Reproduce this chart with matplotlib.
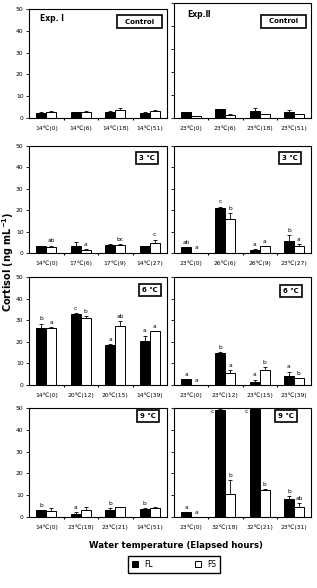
import numpy as np
import matplotlib.pyplot as plt

plt.rcParams['font.family'] = ['DejaVu Sans']

# ---- data ----
# Exp. I (left column)
labels_1_ctrl = ["14℃(0)", "14℃(6)", "14℃(18)", "14℃(51)"]
fl_1_ctrl = [2.5, 2.7, 2.8, 2.5]
fl_1_ctrl_err = [0.3, 0.2, 0.3, 0.3]
fs_1_ctrl = [2.8, 2.8, 3.5, 3.0]
fs_1_ctrl_err = [0.2, 0.2, 1.0, 0.5]

labels_1_3 = ["14℃(0)", "17℃(6)", "17℃(9)", "14℃(27)"]
fl_1_3 = [3.2, 3.3, 3.8, 3.2]
fl_1_3_err = [0.2, 1.9, 0.2, 0.2]
fs_1_3 = [2.9, 1.6, 3.7, 4.8]
fs_1_3_err = [0.6, 0.1, 0.3, 1.5]
fl_1_3_let = ["", "", "", ""]
fs_1_3_let = ["ab", "a", "bc", "c"]

labels_1_6 = ["14℃(0)", "20℃(12)", "20℃(15)", "14℃(39)"]
fl_1_6 = [26.4, 33.0, 18.4, 20.5]
fl_1_6_err = [2.0, 0.2, 0.6, 2.4]
fs_1_6 = [26.4, 31.0, 27.5, 24.9]
fs_1_6_err = [0.3, 1.0, 2.1, 0.2]
fl_1_6_let = ["b", "c", "a", "a"]
fs_1_6_let = ["a", "b", "ab", "a"]

labels_1_9 = ["14℃(0)", "23℃(18)", "23℃(21)", "14℃(51)"]
fl_1_9 = [3.0, 1.5, 3.3, 3.8]
fl_1_9_err = [0.2, 0.9, 0.9, 0.2]
fs_1_9 = [2.9, 3.2, 4.5, 4.2]
fs_1_9_err = [1.0, 1.3, 0.3, 0.3]
fl_1_9_let = ["b", "a", "b", "b"]
fs_1_9_let = ["", "", "", ""]

# Exp. II (right column)
labels_2_ctrl = ["23℃(0)", "23℃(6)", "23℃(18)", "23℃(51)"]
fl_2_ctrl = [2.6, 3.7, 3.2, 2.8]
fl_2_ctrl_err = [0.2, 0.2, 1.3, 0.6]
fs_2_ctrl = [0.9, 1.5, 1.7, 1.7]
fs_2_ctrl_err = [0.1, 0.1, 0.1, 0.2]

labels_2_3 = ["23℃(0)", "26℃(6)", "26℃(9)", "23℃(27)"]
fl_2_3 = [2.7, 20.8, 1.6, 5.7]
fl_2_3_err = [0.1, 0.9, 0.2, 2.6]
fs_2_3 = [0.2, 15.9, 3.2, 3.5]
fs_2_3_err = [0.0, 2.8, 0.2, 0.6]
fl_2_3_let = ["ab", "c", "a", "b"]
fs_2_3_let = ["a", "b", "a", "a"]

labels_2_6 = ["23℃(0)", "23℃(12)", "23℃(15)", "23℃(39)"]
fl_2_6 = [2.6, 15.0, 1.4, 4.2]
fl_2_6_err = [0.0, 0.3, 1.1, 2.0]
fs_2_6 = [0.1, 5.6, 7.1, 3.2]
fs_2_6_err = [0.0, 1.5, 1.2, 0.0]
fl_2_6_let = ["a", "b", "a", "a"]
fs_2_6_let = ["a", "a", "b", "b"]

labels_2_9 = ["23℃(0)", "32℃(18)", "32℃(21)", "23℃(31)"]
fl_2_9 = [2.1, 49.0, 49.5, 8.3]
fl_2_9_err = [0.0, 0.5, 0.3, 1.2]
fs_2_9 = [0.1, 10.6, 12.3, 4.4]
fs_2_9_err = [0.0, 6.2, 0.6, 2.1]
fl_2_9_let = ["a", "c", "c", "b"]
fs_2_9_let = ["a", "b", "b", "ab"]

no_let = ["", "", "", ""]

W, H = 317, 588
fig = plt.figure(figsize=(W / 100, H / 100), dpi=100)


def px_axes(x0, x1, ytop, ybot):
    return fig.add_axes([x0 / W, 1 - ybot / H, (x1 - x0) / W, (ybot - ytop) / H])


def panel(ax, labels, fl, fl_err, fs, fs_err, fl_let, fs_let, tag, tag_xy,
          show_y=True, exp=None, exp_xy=None):
    x = np.arange(len(labels))
    bw = 0.29
    ax.bar(x - bw / 2, fl, bw, color="black", edgecolor="black", lw=0.7, zorder=2)
    ax.bar(x + bw / 2, fs, bw, color="white", edgecolor="black", lw=0.7, zorder=2)
    ax.errorbar(x - bw / 2, fl, yerr=[np.zeros(len(fl)), fl_err], fmt="none",
                ecolor="black", elinewidth=0.6, capsize=1.5, capthick=0.6, zorder=3)
    ax.errorbar(x + bw / 2, fs, yerr=[np.zeros(len(fs)), fs_err], fmt="none",
                ecolor="black", elinewidth=0.6, capsize=1.5, capthick=0.6, zorder=3)
    for i in range(len(labels)):
        for off, v, e, t in ((-bw / 2, fl[i], fl_err[i], fl_let[i]),
                             (bw / 2, fs[i], fs_err[i], fs_let[i])):
            if not t:
                continue
            top = v + e + 1.0
            if top > 47:
                # bar runs off the top: letter sits beside it
                ax.text(x[i] + off - bw / 2 - 0.05, 48.5, t, ha="right", va="center",
                        fontsize=4.3)
            else:
                ax.text(x[i] + off, top, t, ha="center", va="bottom", fontsize=4.3)
    ax.set_xlim(-0.5, 3.5)
    ax.set_ylim(0, 50)
    ax.set_xticks(x)
    ax.set_xticklabels(labels, fontsize=4.3)
    ax.tick_params(axis="x", length=0, pad=5.5)
    ax.set_xticks([0.5, 1.5, 2.5], minor=True)
    ax.tick_params(axis="x", which="minor", length=1.5, width=0.8)
    ax.set_yticks(range(0, 51, 10))
    ax.tick_params(axis="y", length=2, width=0.6, pad=2, labelsize=4.3)
    if not show_y:
        ax.set_yticklabels([])
    for s in ax.spines.values():
        s.set_linewidth(0.8)
    ax.text(tag_xy[0], tag_xy[1], tag, transform=ax.transAxes, ha="center",
            va="center", fontsize=5, fontweight="bold",
            bbox=dict(boxstyle="square,pad=0.45", fc="white", ec="black", lw=1.2))
    if exp:
        ax.text(exp_xy[0], exp_xy[1], exp, transform=ax.transAxes, ha="left",
                va="center", fontsize=5.5, fontweight="bold")


LX = (29, 167)
RX = (174, 311)

ax = px_axes(LX[0], LX[1], 9, 118)
panel(ax, labels_1_ctrl, fl_1_ctrl, fl_1_ctrl_err, fs_1_ctrl, fs_1_ctrl_err,
      no_let, no_let, "  Control  ", (0.80, 0.885), exp="Exp. Ⅰ", exp_xy=(0.08, 0.915))
ax = px_axes(RX[0], RX[1], 3, 118)
panel(ax, labels_2_ctrl, fl_2_ctrl, fl_2_ctrl_err, fs_2_ctrl, fs_2_ctrl_err,
      no_let, no_let, "  Control  ", (0.80, 0.84), show_y=False,
      exp="Exp.Ⅱ", exp_xy=(0.095, 0.90))

ax = px_axes(LX[0], LX[1], 146, 253)
panel(ax, labels_1_3, fl_1_3, fl_1_3_err, fs_1_3, fs_1_3_err,
      fl_1_3_let, fs_1_3_let, "3 ℃", (0.855, 0.885))
ax = px_axes(RX[0], RX[1], 146, 253)
panel(ax, labels_2_3, fl_2_3, fl_2_3_err, fs_2_3, fs_2_3_err,
      fl_2_3_let, fs_2_3_let, "3 ℃", (0.845, 0.885), show_y=False)

ax = px_axes(LX[0], LX[1], 277, 385)
panel(ax, labels_1_6, fl_1_6, fl_1_6_err, fs_1_6, fs_1_6_err,
      fl_1_6_let, fs_1_6_let, "6 ℃", (0.875, 0.88))
ax = px_axes(RX[0], RX[1], 277, 385)
panel(ax, labels_2_6, fl_2_6, fl_2_6_err, fs_2_6, fs_2_6_err,
      fl_2_6_let, fs_2_6_let, "6 ℃", (0.855, 0.87), show_y=False)

ax = px_axes(LX[0], LX[1], 408, 517)
panel(ax, labels_1_9, fl_1_9, fl_1_9_err, fs_1_9, fs_1_9_err,
      fl_1_9_let, fs_1_9_let, "9 ℃", (0.86, 0.93))
ax = px_axes(RX[0], RX[1], 408, 517)
panel(ax, labels_2_9, fl_2_9, fl_2_9_err, fs_2_9, fs_2_9_err,
      fl_2_9_let, fs_2_9_let, "9 ℃", (0.82, 0.93), show_y=False)

fig.text(8 / W, 1 - 262 / H, "Cortisol (ng mL$^{\\mathbf{-1}}$)", rotation=90,
         ha="center", va="center", fontsize=7, fontweight="bold")
fig.text(176 / W, 1 - 545 / H, "Water temperature (Elapsed hours)",
         ha="center", va="center", fontsize=6.2, fontweight="bold")

h1 = plt.Rectangle((0, 0), 1, 1, fc="black", ec="black", lw=0.7)
h2 = plt.Rectangle((0, 0), 1, 1, fc="white", ec="black", lw=0.7)
leg = fig.legend([h1, h2], ["FL", "FS"], ncol=2, loc="center",
                 bbox_to_anchor=(174 / W, 1 - 564.5 / H), fontsize=5.5,
                 fancybox=False, edgecolor="black", framealpha=1,
                 handlelength=0.8, handleheight=0.8, handletextpad=0.8,
                 columnspacing=5.5, borderpad=0.5, borderaxespad=0)
leg.get_frame().set_linewidth(1.0)

fig.savefig("out.png", dpi=100)
